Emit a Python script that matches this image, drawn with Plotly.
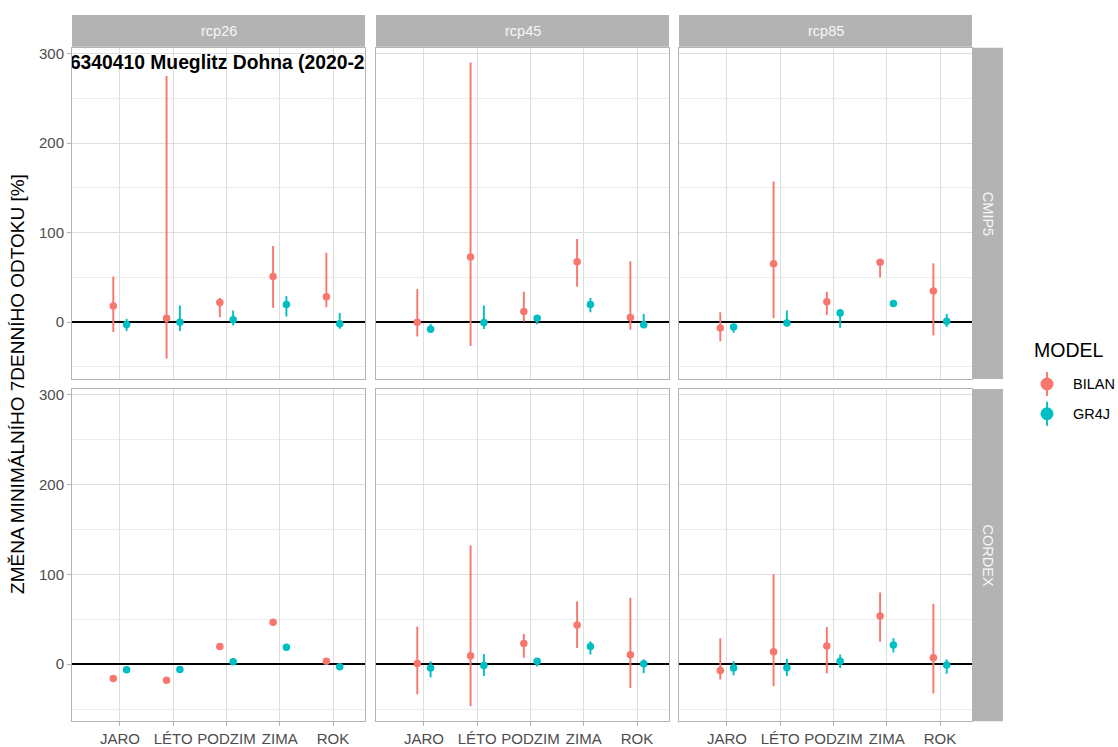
import plotly.graph_objects as go

W, H = 1118, 747

SCENARIOS = ["rcp26", "rcp45", "rcp85"]
ENSEMBLES = ["CMIP5", "CORDEX"]
SEASONS = ["JARO", "LÉTO", "PODZIM", "ZIMA", "ROK"]
MODELS = ["BILAN", "GR4J"]
COLORS = {"BILAN": "#F8766D", "GR4J": "#00BFC4"}
TITLE_TEXT = "6340410 Mueglitz Dohna (2020-2050)"
Y_TITLE = "ZMĚNA MINIMÁLNÍHO 7DENNÍHO ODTOKU [%]"

# values per panel "ENSEMBLE/scenario", in season order
BILAN_MID = {
    "CMIP5/rcp26": [18, 4.4, 22, 51, 28.4],
    "CMIP5/rcp45": [0, 72.7, 12, 67.5, 5.2],
    "CMIP5/rcp85": [-6.6, 65.3, 22.9, 66.8, 34.7],
    "CORDEX/rcp26": [-15.9, -18, 19.6, 46.5, 3.3],
    "CORDEX/rcp45": [0.7, 9.2, 22.9, 43.5, 10.3],
    "CORDEX/rcp85": [-7, 13.7, 20.3, 53.5, 7],
}
BILAN_LO = {
    "CMIP5/rcp26": [-11, -40.6, 5.5, 16, 16.6],
    "CMIP5/rcp45": [-16, -26.6, 0.7, 39.5, -8.5],
    "CMIP5/rcp85": [-21.4, 4.4, 8.1, 50, -14.8],
    "CORDEX/rcp26": [None, None, None, None, None],
    "CORDEX/rcp45": [-33.6, -46.9, 7, 18, -26.6],
    "CORDEX/rcp85": [-17, -24.7, -10.3, 25, -32.8],
}
BILAN_HI = {
    "CMIP5/rcp26": [51, 275, 27, 85, 77.5],
    "CMIP5/rcp45": [37, 290, 34, 93, 68],
    "CMIP5/rcp85": [11, 157, 34, 66.8, 65.7],
    "CORDEX/rcp26": [None, None, None, None, None],
    "CORDEX/rcp45": [42, 132, 33.6, 70, 73.8],
    "CORDEX/rcp85": [28.8, 100, 41.3, 79.7, 67.2],
}
GR4J_MID = {
    "CMIP5/rcp26": [-2.6, 0, 2.6, 19.6, -1.8],
    "CMIP5/rcp45": [-8, -0.5, 4.4, 19.6, -3],
    "CMIP5/rcp85": [-5.5, -1.1, 10.3, 20.7, 1.1],
    "CORDEX/rcp26": [-6.3, -5.9, 2.6, 18.8, -3],
    "CORDEX/rcp45": [-4.4, -1.5, 3.3, 19.6, 0.4],
    "CORDEX/rcp85": [-4.4, -4, 3.3, 21.4, -1.1],
}
GR4J_LO = {
    "CMIP5/rcp26": [-10, -10, -3.7, 6.3, -7.4],
    "CMIP5/rcp45": [-11, -7.7, -2.6, 11, -6.3],
    "CMIP5/rcp85": [-12, -4.8, -6.3, 18, -5.5],
    "CORDEX/rcp26": [None, None, None, None, None],
    "CORDEX/rcp45": [-14.8, -13.3, -2.6, 10.7, -10.3],
    "CORDEX/rcp85": [-12.5, -13.3, -4.4, 13, -10.7],
}
GR4J_HI = {
    "CMIP5/rcp26": [3.7, 18.5, 13, 29, 10.3],
    "CMIP5/rcp45": [-2, 18.5, 7, 27, 9.2],
    "CMIP5/rcp85": [-3, 13, 14.8, 23, 9.2],
    "CORDEX/rcp26": [None, None, None, None, None],
    "CORDEX/rcp45": [3.3, 11.4, 6.3, 25.5, 5.5],
    "CORDEX/rcp85": [3.3, 5.9, 10.7, 28.8, 5.5],
}
MID = {"BILAN": BILAN_MID, "GR4J": GR4J_MID}
LO = {"BILAN": BILAN_LO, "GR4J": GR4J_LO}
HI = {"BILAN": BILAN_HI, "GR4J": GR4J_HI}

FONT = "Liberation Sans, Arial, sans-serif"
STRIP = "#B3B3B3"
TICK_COL = "#4D4D4D"

# pixel layout
COL_X = [(72, 365), (376, 669), (679, 972)]
ROW_Y = [(45, 378), (388, 722)]
DODGE = {"BILAN": -0.125, "GR4J": 0.125}


def px_x(p):
    return p / W


def px_y(p):
    return 1 - p / H


fig = go.Figure()
layout = {}
shapes = []
annotations = []

for r, ens in enumerate(ENSEMBLES):
    for c, sc in enumerate(SCENARIOS):
        idx = r * 3 + c + 1
        sfx = "" if idx == 1 else str(idx)
        key = f"{ens}/{sc}"
        for m in MODELS:
            mids = MID[m][key]
            los = LO[m][key]
            his = HI[m][key]
            xs = [i + 1 + DODGE[m] for i in range(len(SEASONS))]
            has_err = all(v is not None for v in los)
            err = None
            if has_err:
                err = dict(type="data", symmetric=False,
                           array=[h - v for h, v in zip(his, mids)],
                           arrayminus=[v - l for v, l in zip(mids, los)],
                           color=COLORS[m], thickness=1.9, width=0)
            fig.add_trace(go.Scatter(
                x=xs, y=mids, mode="markers",
                marker=dict(color=COLORS[m], size=7.5),
                error_y=err, showlegend=False,
                xaxis="x" + sfx, yaxis="y" + sfx, name=m,
            ))
        if idx == 1:
            fig.add_trace(go.Scatter(
                x=[0.06], y=[288], mode="text",
                text=[f"<b>{TITLE_TEXT}</b>"], textposition="middle right",
                textfont=dict(family=FONT, size=19.3, color="black"),
                showlegend=False, xaxis="x", yaxis="y", hoverinfo="skip",
            ))
        x0, x1 = COL_X[c]
        y0, y1 = ROW_Y[r]
        layout["xaxis" + sfx] = dict(
            domain=[px_x(x0), px_x(x1)], anchor="y" + sfx,
            range=[0.1, 5.6], tickmode="array",
            tickvals=[1, 2, 3, 4, 5], ticktext=SEASONS,
            showticklabels=(r == 1), ticks="outside" if r == 1 else "",
            ticklen=4, tickcolor=STRIP,
            tickfont=dict(family=FONT, size=15, color=TICK_COL),
            showgrid=True, gridcolor="#DEDEDE", gridwidth=1,
            zeroline=False, showline=True, mirror=True,
            linecolor=STRIP, linewidth=1, fixedrange=True,
        )
        layout["yaxis" + sfx] = dict(
            domain=[px_y(y1), px_y(y0)], anchor="x" + sfx,
            range=[-63.5, 306.5], tickmode="array",
            tickvals=[0, 100, 200, 300],
            minor=dict(tickvals=[-50, 50, 150, 250], showgrid=True,
                       gridcolor="#EDEDED", gridwidth=0.6, ticks=""),
            showticklabels=(c == 0), ticks="outside" if c == 0 else "",
            ticklen=4, tickcolor=STRIP,
            tickfont=dict(family=FONT, size=15, color=TICK_COL),
            showgrid=True, gridcolor="#DEDEDE", gridwidth=1,
            zeroline=True, zerolinecolor="black", zerolinewidth=1.6,
            showline=True, mirror=True, linecolor=STRIP, linewidth=1,
            fixedrange=True,
        )

# top strips
for c, sc in enumerate(SCENARIOS):
    x0, x1 = COL_X[c]
    shapes.append(dict(type="rect", xref="paper", yref="paper",
                       x0=px_x(x0), x1=px_x(x1), y0=px_y(44), y1=px_y(12),
                       fillcolor=STRIP, line=dict(width=0), layer="below"))
    annotations.append(dict(xref="paper", yref="paper", x=px_x((x0 + x1) / 2),
                            y=px_y(28.5), text=sc, showarrow=False,
                            font=dict(family=FONT, size=14.5, color="#F7F7F7"),
                            xanchor="center", yanchor="middle"))
# right strips
for r, ens in enumerate(ENSEMBLES):
    y0, y1 = ROW_Y[r]
    shapes.append(dict(type="rect", xref="paper", yref="paper",
                       x0=px_x(972), x1=px_x(1003), y0=px_y(y1), y1=px_y(y0),
                       fillcolor=STRIP, line=dict(width=0), layer="below"))
    annotations.append(dict(xref="paper", yref="paper", x=px_x(987.5),
                            y=px_y((y0 + y1) / 2), text=ens, showarrow=False,
                            textangle=90,
                            font=dict(family=FONT, size=14.5, color="#F7F7F7"),
                            xanchor="center", yanchor="middle"))

# y-axis title
annotations.append(dict(xref="paper", yref="paper", x=px_x(18), y=px_y(383),
                        text=Y_TITLE, showarrow=False, textangle=-90,
                        font=dict(family=FONT, size=19, color="black"),
                        xanchor="center", yanchor="middle"))

# legend (drawn manually to show point-range glyphs)
annotations.append(dict(xref="paper", yref="paper", x=px_x(1032), y=px_y(349),
                        text="MODEL", showarrow=False,
                        font=dict(family=FONT, size=19.5, color="black"),
                        xanchor="left", yanchor="middle"))
for m, cy in zip(MODELS, (383, 413)):
    shapes.append(dict(type="line", xref="paper", yref="paper",
                       x0=px_x(1047), x1=px_x(1047),
                       y0=px_y(cy - 12), y1=px_y(cy + 12),
                       line=dict(color=COLORS[m], width=1.9)))
    shapes.append(dict(type="circle", xref="paper", yref="paper",
                       x0=px_x(1040.5), x1=px_x(1053.5),
                       y0=px_y(cy + 6.5), y1=px_y(cy - 6.5),
                       fillcolor=COLORS[m], line=dict(width=0)))
    annotations.append(dict(xref="paper", yref="paper", x=px_x(1071),
                            y=px_y(cy), text=m, showarrow=False,
                            font=dict(family=FONT, size=14.5, color="black"),
                            xanchor="left", yanchor="middle"))

fig.update_layout(
    width=W, height=H, autosize=False,
    margin=dict(l=0, r=0, t=0, b=0),
    paper_bgcolor="white", plot_bgcolor="white",
    font=dict(family=FONT),
    shapes=shapes, annotations=annotations, showlegend=False,
    **layout,
)

fig.write_html(
    "out.html",
    config={"displayModeBar": False},
    post_script="document.body.style.margin='0';"
                "document.body.style.overflow='hidden';",
)
